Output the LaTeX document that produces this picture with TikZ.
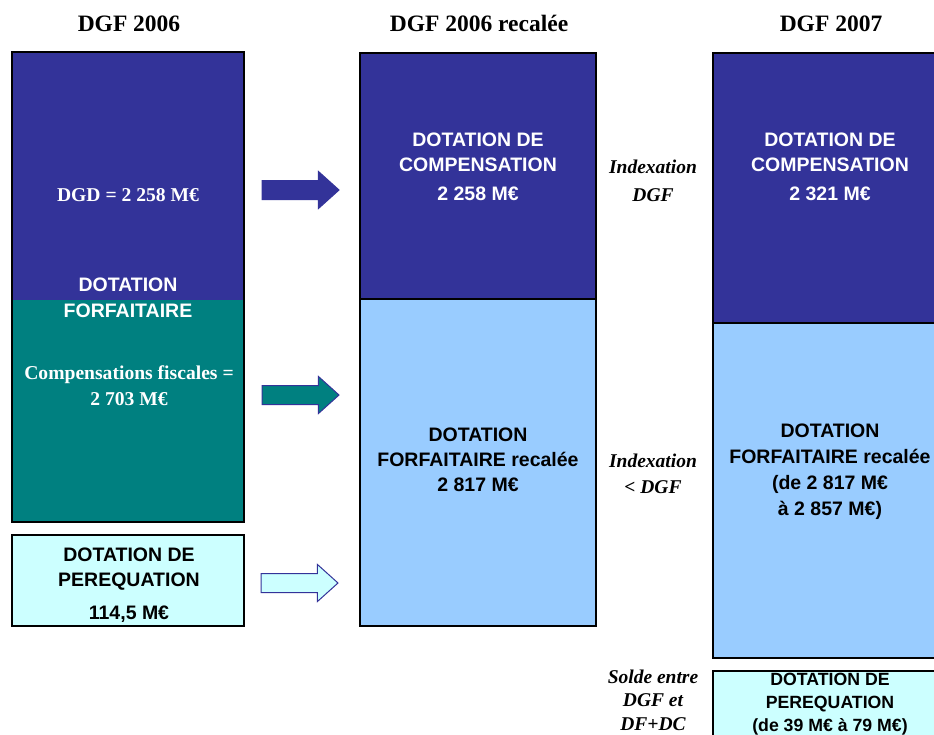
\documentclass[tikz,border=0pt]{standalone}
\usepackage{fontspec}
\setmainfont{Liberation Serif}
\newfontfamily\arialf{Liberation Sans}
\usetikzlibrary{shapes.arrows}
\definecolor{navy}{HTML}{333399}
\definecolor{dteal}{HTML}{008080}
\definecolor{lblue}{HTML}{99CCFF}
\definecolor{lcyan}{HTML}{CCFFFF}
\tikzset{
  blk/.style={draw=black, line width=2.4pt, inner sep=0pt, outer sep=0pt, anchor=north west},
  fillonly/.style={inner sep=0pt, outer sep=0pt, anchor=north west},
  frame/.style={draw=black, line width=2.4pt},
  ttl/.style={font=\bfseries\fontsize{23.5}{28}\selectfont, anchor=base},
  sanstxt/.style={font=\arialf\bfseries\fontsize{19.5}{25}\selectfont, align=center, inner sep=0pt},
  sanssmall/.style={font=\arialf\bfseries\fontsize{17.7}{23}\selectfont, align=center, inner sep=0pt},
  serftxt/.style={font=\bfseries\fontsize{19.6}{26}\selectfont, align=center, inner sep=0pt},
  itxt/.style={font=\bfseries\itshape\fontsize{19.5}{26}\selectfont, align=center, inner sep=0pt},
  barrow/.style={single arrow, draw=navy, line width=1pt, minimum height=77pt,
    inner xsep=0pt, inner ysep=9pt, single arrow head extend=9pt,
    single arrow tip angle=84, anchor=west, outer sep=0pt}
}
\begin{document}
\begin{tikzpicture}[x=1pt,y=-1pt]
\useasboundingbox (0,0) rectangle (934,734);
\clip (0,0) rectangle (934,734);
% titles
\node[ttl] (t1) at (129,31) {DGF 2006};
\node[ttl] (t2) at (479,31) {DGF 2006 recalée};
\node[ttl] (t3) at (831,31) {DGF 2007};
% left column
\node[fillonly, fill=navy, minimum width=232pt, minimum height=248pt] (dgd) at (12,52) {};
\node[fillonly, fill=dteal, minimum width=232pt, minimum height=222pt] (cf) at (12,300) {};
\draw[frame] (dgd.north west) rectangle (cf.south east);
\node[blk, fill=lcyan, minimum width=232pt, minimum height=91pt] (per06) at (12,535) {};
% middle column
\node[blk, fill=navy, minimum width=236pt, minimum height=246pt] (dc06) at (360,53) {};
\node[blk, fill=lblue, minimum width=236pt, minimum height=327pt] (df06) at (360,299) {};
% right column
\node[blk, fill=navy, minimum width=260pt, minimum height=270pt] (dc07) at (713,53) {};
\node[blk, fill=lblue, minimum width=260pt, minimum height=335pt] (df07) at (713,323) {};
\node[blk, fill=lcyan, minimum width=260pt, minimum height=100pt] (per07) at (713,671) {};
% arrows
\node[barrow, fill=navy] (a1) at (262,190) {};
\node[barrow, fill=dteal] (a2) at (262,395) {};
\node[barrow, fill=lcyan] (a3) at (261,583) {};
% left texts
\node[serftxt, text=white] (dgdt) at (128,195) {DGD = 2 258 M€};
\node[sanstxt, text=white, font=\arialf\bfseries\fontsize{19.5}{26}\selectfont] (dft) at (128,298) {DOTATION\\FORFAITAIRE};
\node[serftxt, text=white] (cft) at (129,386) {Compensations fiscales =\\2 703 M€};
\node[sanstxt] (per06t) at (129,585) {DOTATION DE\\PEREQUATION\\[8pt]114,5 M€};
% middle texts
\node[sanstxt, text=white] (dc06t) at (478,167) {DOTATION DE\\COMPENSATION\\[4pt]2 258 M€};
\node[sanstxt] (df06t) at (478,460) {DOTATION\\FORFAITAIRE recalée\\2 817 M€};
% right texts
\node[sanstxt, text=white] (dc07t) at (830,167) {DOTATION DE\\COMPENSATION\\[4pt]2 321 M€};
\node[sanstxt, font=\arialf\bfseries\fontsize{19.5}{26}\selectfont] (df07t) at (830,472) {DOTATION\\FORFAITAIRE recalée\\(de 2 817 M€\\à 2 857 M€)};
\node[sanssmall] (per07t) at (830,704) {DOTATION DE\\PEREQUATION\\(de 39 M€ à 79 M€)};
% italic labels
\node[itxt, font=\bfseries\itshape\fontsize{19.5}{28}\selectfont] (ix1) at (653,181) {Indexation\\DGF};
\node[itxt] (ix2) at (653,474) {Indexation\\< DGF};
\node[itxt, font=\bfseries\itshape\fontsize{19.5}{23.5}\selectfont] (sol) at (653,700) {Solde entre\\DGF et\\DF+DC};
\end{tikzpicture}
\end{document}
